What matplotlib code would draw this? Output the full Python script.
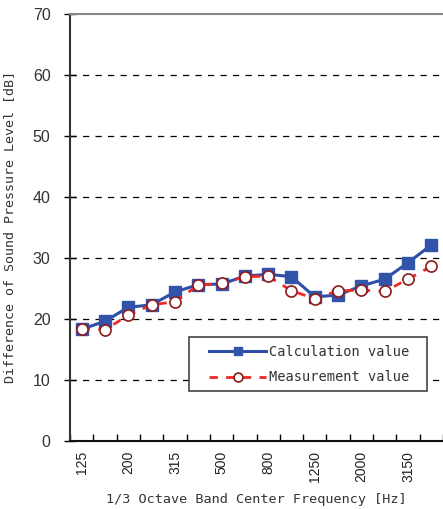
import matplotlib
matplotlib.use("Agg")
import matplotlib.pyplot as plt
from matplotlib.patches import Rectangle
import numpy as np

bands = ["125", "160", "200", "250", "315", "400", "500", "630", "800",
         "1000", "1250", "1600", "2000", "2500", "3150", "4000"]
calculation = [18.3, 19.6, 21.9, 22.3, 24.4, 25.6, 25.7, 27.0, 27.3,
               26.9, 23.6, 23.9, 25.4, 26.5, 29.2, 32.1]
measurement = [18.4, 18.2, 20.6, 22.3, 22.8, 25.5, 25.8, 26.9, 27.0,
               24.6, 23.3, 24.6, 24.7, 24.5, 26.5, 28.6]
y_ticks = [0, 10, 20, 30, 40, 50, 60, 70]

mono = ["DejaVu Sans Mono"]
sans = ["Liberation Sans", "DejaVu Sans"]

fig = plt.figure(figsize=(4.43, 5.09), dpi=100)
ax = fig.add_axes([70 / 443, 68 / 509, 373 / 443, 427.5 / 509])

x = np.arange(len(bands))
ax.plot(x, calculation, color="#2E4FA6", lw=2.2, marker="s", ms=8,
        mfc="#3153AA", mec="#3153AA", label="Calculation value", zorder=3)
ax.plot(x, measurement, color="#F02828", lw=2.0, ls=(0, (3, 3)), marker="o",
        ms=8, mfc="white", mec="#8E1A1A", mew=1.2,
        label="Measurement value", zorder=4)

ax.set_xlim(-0.5, len(bands) - 0.5)
ax.set_ylim(0, 70)
ax.set_yticks(y_ticks)
ax.set_yticklabels([str(v) for v in y_ticks], fontfamily=sans, fontsize=11.5,
                   color="#333333")
ax.set_xticks(x)
ax.set_xticklabels([b if i % 2 == 0 else "" for i, b in enumerate(bands)],
                   rotation=90, fontfamily=sans, fontsize=10, color="#222222")
ax.set_xticks(np.arange(len(bands) + 1) - 0.5, minor=True)
ax.tick_params(axis="x", which="major", length=0, pad=7)
ax.tick_params(axis="x", which="minor", direction="in", length=5, width=1)
ax.tick_params(axis="y", direction="inout", length=8, width=1, pad=10)

for v in y_ticks[1:-1]:
    ax.axhline(v, color="black", lw=0.9, ls=(0, (5, 5)), zorder=1)

ax.spines["right"].set_visible(False)
ax.spines["top"].set_color("#888888")
ax.spines["top"].set_linewidth(1.5)
ax.spines["left"].set_color("#333333")
ax.spines["left"].set_linewidth(1.5)
ax.spines["bottom"].set_color("#111111")
ax.spines["bottom"].set_linewidth(1.5)

ax.set_ylabel("Difference of Sound Pressure Level [dB]", fontfamily=mono,
              fontsize=9.6, color="#333333", labelpad=12)
ax.set_xlabel("1/3 Octave Band Center Frequency [Hz]", fontfamily=mono,
              fontsize=9.7, color="#333333", labelpad=8)

# legend box drawn as a plain rectangle, entries placed inside it
ax.add_patch(Rectangle((119 / 373, 50 / 427.5), 238 / 373, 54 / 427.5,
                       transform=ax.transAxes, facecolor="white",
                       edgecolor="#444444", lw=1.2, zorder=5))
leg = ax.legend(loc="center left", bbox_to_anchor=(139 / 373, 76.5 / 427.5),
                prop={"family": mono, "size": 9.8}, frameon=False,
                handlelength=4.2, borderaxespad=0, borderpad=0,
                handletextpad=0.2, labelspacing=0.85, numpoints=1,
                markerscale=0.8)
leg.set_zorder(6)
for t in leg.get_texts():
    t.set_color("#333333")

fig.savefig("out.png", dpi=100)
